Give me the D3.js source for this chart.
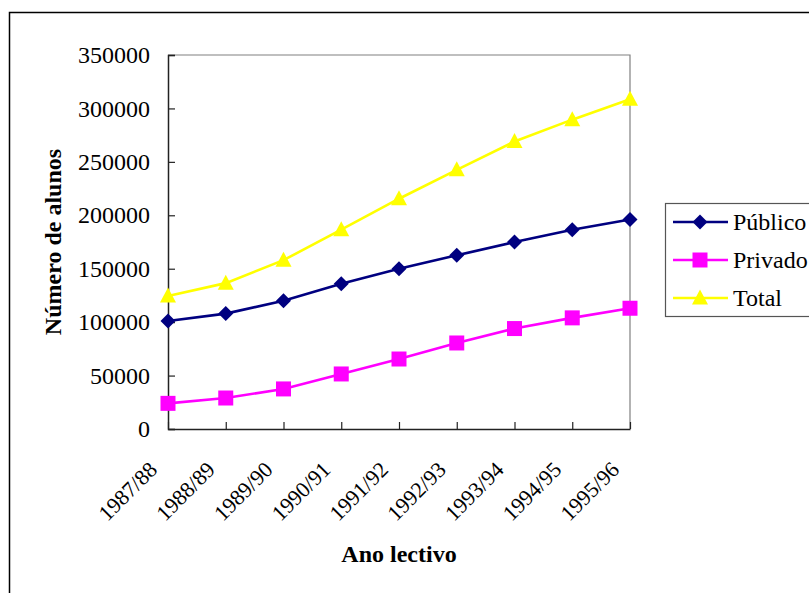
<!DOCTYPE html>
<html>
<head>
<meta charset="utf-8">
<script src="https://cdn.jsdelivr.net/npm/d3@7"></script>
</head>
<body style="margin:0">
<svg id="chart" width="809" height="593"></svg>
<script>
// School years on the x axis
const anos = ["1987/88", "1988/89", "1989/90", "1990/91", "1991/92", "1992/93", "1993/94", "1994/95", "1995/96"];
// Number of students per sector
const publico = [101000, 108000, 120000, 136000, 150000, 162500, 175000, 186500, 196000];
const privado = [24000, 29000, 37500, 51500, 65500, 80500, 94000, 104000, 113000];
const total = [124500, 136500, 158000, 186500, 215500, 242500, 269000, 289500, 308500];
const yTicks = [0, 50000, 100000, 150000, 200000, 250000, 300000, 350000];

const series = [
  { name: "Público", values: publico, color: "#000080", marker: "diamond" },
  { name: "Privado", values: privado, color: "#FF00FF", marker: "square" },
  { name: "Total", values: total, color: "#FFFF00", marker: "triangle" }
];

const FONT = "Liberation Serif";
const svg = d3.select("#chart");
const plot = { left: 168, right: 630, top: 55, bottom: 429 };

// outer chart frame
svg.append("rect")
  .attr("x", 9.5).attr("y", 12.5)
  .attr("width", 820).attr("height", 620)
  .attr("fill", "none").attr("stroke", "#000").attr("stroke-width", 1.5);

const x = d3.scalePoint().domain(anos).range([plot.left, plot.right]);
const y = d3.scaleLinear().domain([0, 350000]).range([plot.bottom, plot.top]);

// plot area border (top/right in grey)
svg.append("path")
  .attr("d", `M${plot.left},${plot.top}H${plot.right}V${plot.bottom}`)
  .attr("fill", "none").attr("stroke", "#808080").attr("stroke-width", 1.2);

// y axis
const yAxis = svg.append("g")
  .attr("transform", `translate(${plot.left},0)`)
  .call(d3.axisLeft(y).tickValues(yTicks).tickSize(-7).tickPadding(18).tickFormat(d3.format("d")))
  .attr("font-family", null).attr("font-size", null);
yAxis.select(".domain").attr("stroke", "#222").attr("stroke-width", 1.5);
yAxis.selectAll(".tick line").attr("stroke", "#222").attr("stroke-width", 1.2);
yAxis.selectAll(".tick text").style("font-family", FONT).style("font-size", "24px").attr("fill", "#000");

// x axis with slanted year labels
const xAxis = svg.append("g")
  .attr("transform", `translate(0,${plot.bottom})`)
  .call(d3.axisBottom(x).tickSize(-7).tickSizeOuter(0))
  .attr("font-family", null).attr("font-size", null);
xAxis.select(".domain").attr("stroke", "#222").attr("stroke-width", 1.5);
xAxis.selectAll(".tick line").attr("stroke", "#222").attr("stroke-width", 1.2);
xAxis.selectAll(".tick text")
  .style("font-family", FONT).style("font-size", "22px")
  .attr("fill", "#000")
  .attr("text-anchor", "end")
  .attr("y", 0).attr("dy", 0)
  .attr("transform", "translate(-10,42) rotate(-45)");

// axis titles
svg.append("text")
  .attr("x", (plot.left + plot.right) / 2).attr("y", 562)
  .attr("text-anchor", "middle")
  .style("font-family", FONT).style("font-size", "24px").style("font-weight", "bold")
  .text("Ano lectivo");

svg.append("text")
  .attr("transform", `translate(61,${(plot.top + plot.bottom) / 2}) rotate(-90)`)
  .attr("text-anchor", "middle")
  .style("font-family", FONT).style("font-size", "24px").style("font-weight", "bold")
  .text("Número de alunos");

// marker shapes
function markerPath(type) {
  if (type === "diamond") return "M0,-7.5L7.5,0L0,7.5L-7.5,0Z";
  if (type === "square") return "M-7.5,-7.5H7.5V7.5H-7.5Z";
  return "M0,-8.5L8,6.5L-8,6.5Z";
}

const line = d3.line().x((d, i) => x(anos[i])).y(d => y(d));

// draw Total first so the other series sit on top
[...series].reverse().forEach(s => {
  const g = svg.append("g");
  g.append("path")
    .attr("d", line(s.values))
    .attr("fill", "none").attr("stroke", s.color).attr("stroke-width", 2.6);
  g.selectAll("path.m").data(s.values).enter().append("path")
    .attr("class", "m")
    .attr("transform", (d, i) => `translate(${x(anos[i])},${y(d)})`)
    .attr("d", markerPath(s.marker))
    .attr("fill", s.color);
});

// legend
const lg = svg.append("g").attr("transform", "translate(665,203)");
lg.append("rect")
  .attr("x", 0.5).attr("y", 0.5).attr("width", 160).attr("height", 113)
  .attr("fill", "#fff").attr("stroke", "#555").attr("stroke-width", 1.2);
series.forEach((s, i) => {
  const cy = 19 + i * 38;
  lg.append("line").attr("x1", 8).attr("x2", 63).attr("y1", cy).attr("y2", cy)
    .attr("stroke", s.color).attr("stroke-width", 2.6);
  lg.append("path").attr("transform", `translate(35,${cy})`)
    .attr("d", markerPath(s.marker)).attr("fill", s.color);
  lg.append("text").attr("x", 68).attr("y", cy).attr("dy", "0.33em")
    .style("font-family", FONT).style("font-size", "24px").text(s.name);
});
</script>
</body>
</html>
